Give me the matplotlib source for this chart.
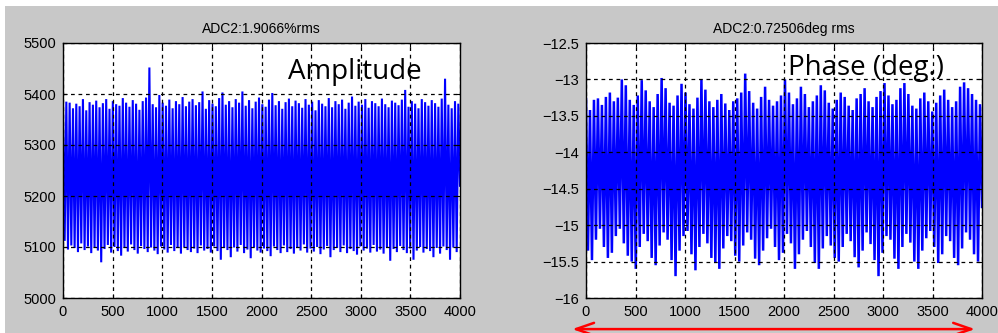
import numpy as np
import matplotlib
matplotlib.use("Agg")
import matplotlib.pyplot as plt
from matplotlib.patches import Rectangle
from matplotlib.transforms import blended_transform_factory

# peak / trough values (one per oscillation cycle)
amp_peaks = [5378, 5385, 5383, 5372, 5381, 5376, 5390, 5368, 5384, 5379,
             5387, 5374, 5382, 5390, 5371, 5386, 5380, 5377, 5392, 5383,
             5375, 5388, 5381, 5369, 5386, 5393, 5452, 5380, 5374, 5398,
             5383, 5377, 5389, 5372, 5386, 5380, 5394, 5376, 5385, 5390,
             5378, 5384, 5405, 5371, 5388, 5381, 5376, 5392, 5403, 5379,
             5386, 5374, 5390, 5383, 5405, 5377, 5388, 5372, 5385, 5393,
             5380, 5375, 5389, 5402, 5378, 5386, 5371, 5384, 5391, 5376,
             5387, 5382, 5373, 5390, 5379, 5385, 5368, 5388, 5381, 5376,
             5392, 5374, 5386, 5380, 5389, 5371, 5383, 5395, 5377, 5385,
             5379, 5390, 5373, 5386, 5382, 5376, 5391, 5380, 5374, 5387,
             5383, 5378, 5389, 5408, 5375, 5386, 5381, 5372, 5390, 5384,
             5377, 5388, 5382, 5375, 5391, 5430, 5379, 5372, 5386, 5381]
amp_troughs = [5112, 5095, 5103, 5098, 5090, 5107, 5094, 5101, 5088, 5099,
               5093, 5070, 5096, 5104, 5089, 5100, 5092, 5083, 5098, 5091,
               5105, 5094, 5087, 5102, 5096, 5090, 5099, 5093, 5086, 5101,
               5095, 5089, 5104, 5092, 5098, 5087, 5100, 5094, 5090, 5097,
               5088, 5103, 5093, 5096, 5089, 5101, 5092, 5075, 5098, 5094,
               5080, 5099, 5091, 5104, 5088, 5095, 5078, 5100, 5093, 5089,
               5097, 5092, 5082, 5101, 5094, 5088, 5103, 5090, 5096, 5087,
               5099, 5093, 5105, 5089, 5097, 5091, 5100, 5086, 5095, 5102,
               5080, 5094, 5098, 5090, 5103, 5088, 5096, 5092, 5085, 5101,
               5093, 5097, 5089, 5104, 5091, 5095, 5087, 5099, 5073, 5096,
               5090, 5102, 5094, 5088, 5097, 5075, 5093, 5100, 5089, 5096,
               5092, 5080, 5098, 5087, 5101, 5094, 5075, 5099, 5090, 5220]

ph_peaks = [-13.27, -13.42, -13.28, -13.26, -13.35, -13.24, -13.18, -13.30, -13.25, -13.00,
            -13.08, -13.28, -13.35, -13.22, -13.01, -13.15, -13.30, -13.38, -13.20, -12.98,
            -13.12, -13.32, -13.36, -13.22, -13.06, -13.18, -13.34, -13.40, -13.25, -13.00,
            -13.14, -13.30, -13.38, -13.28, -13.20, -13.33, -13.42, -13.30, -13.26, -13.18,
            -12.92, -13.16, -13.32, -13.40, -13.24, -13.10, -13.28, -13.36, -13.30, -13.22,
            -13.00, -13.18, -13.34, -13.26, -13.10, -13.20, -13.38, -13.30, -13.22, -13.08,
            -13.15, -13.32, -13.40, -13.28, -13.18, -13.24, -13.36, -13.42, -13.26, -13.20,
            -13.12, -13.30, -13.38, -13.24, -13.16, -13.05, -13.22, -13.34, -13.28, -13.12,
            -13.05, -13.20, -13.36, -13.40, -13.26, -13.18, -13.30, -13.44, -13.32, -13.22,
            -13.14, -13.28, -13.38, -13.30, -13.10, -13.04, -13.12, -13.20, -13.28, -13.34]
ph_troughs = [-15.35, -15.48, -15.20, -15.05, -15.30, -15.45, -15.38, -15.15, -15.05, -15.25,
              -15.42, -15.50, -15.60, -15.30, -15.12, -15.22, -15.45, -15.55, -15.28, -15.10,
              -15.20, -15.48, -15.70, -15.35, -15.15, -15.08, -15.40, -15.62, -15.30, -15.12,
              -15.25, -15.45, -15.52, -15.60, -15.32, -15.15, -15.22, -15.42, -15.50, -15.28,
              -15.10, -15.20, -15.46, -15.55, -15.35, -15.18, -15.05, -15.30, -15.48, -15.38,
              -15.12, -15.25, -15.60, -15.40, -15.20, -15.08, -15.30, -15.52, -15.60, -15.32,
              -15.15, -15.28, -15.45, -15.50, -15.30, -15.12, -15.22, -15.44, -15.58, -15.35,
              -15.10, -15.26, -15.48, -15.70, -15.38, -15.15, -15.20, -15.46, -15.60, -15.30,
              -15.12, -15.24, -15.50, -15.60, -15.35, -15.18, -15.08, -15.30, -15.52, -15.40,
              -15.15, -15.22, -15.45, -15.55, -15.32, -15.10, -15.20, -15.40, -15.50, -14.75]

n_samples = 4000
titles = ["ADC2:1.9066%rms", "ADC2:0.72506deg rms"]
labels = ["Amplitude", "Phase (deg.)"]
amp_yticks = [5000, 5100, 5200, 5300, 5400, 5500]
ph_yticks = [-16, -15.5, -15, -14.5, -14, -13.5, -13, -12.5]
xticks = [0, 500, 1000, 1500, 2000, 2500, 3000, 3500, 4000]

tick_font = ["Liberation Sans", "DejaVu Sans"]
gray = "#c8c8c8"


def zigzag(peaks, troughs):
    # interleave the peaks and troughs, spread evenly over the record
    y = np.empty(2 * len(peaks))
    y[0::2] = peaks
    y[1::2] = troughs
    x = np.linspace(0, n_samples, len(y))
    return x, y


fig = plt.figure(figsize=(9.98, 3.33), dpi=100, facecolor="white")
fig.patches.append(Rectangle((5 / 998, 0), 1, 327 / 333, transform=fig.transFigure,
                             facecolor=gray, edgecolor="none", zorder=-10))

ax1 = fig.add_axes([63 / 998, 35 / 333, 397 / 998, 255 / 333])
ax2 = fig.add_axes([586 / 998, 35 / 333, 396 / 998, 255 / 333])

panels = [(ax1, amp_peaks, amp_troughs, amp_yticks, 1.5),
          (ax2, ph_peaks, ph_troughs, ph_yticks, 1.8)]

for i, (ax, pk, tr, yt, lw) in enumerate(panels):
    x, y = zigzag(pk, tr)
    ax.plot(x, y, color="#0000ff", lw=lw, zorder=2, solid_joinstyle="miter")
    ax.set_xlim(0, n_samples)
    ax.set_ylim(yt[0], yt[-1])
    ax.set_xticks(xticks)
    ax.set_yticks(yt)
    ax.set_xticklabels([str(t) for t in xticks], family=tick_font, fontsize=10.5)
    ax.set_yticklabels([("%g" % t).replace("-", "\u2212") for t in yt],
                       family=tick_font, fontsize=10.5)
    ax.tick_params(direction="in", length=3, width=0.8, top=True, right=True,
                   pad=5, colors="black")
    ax.grid(True, color="black", linestyle=(0, (3, 3)), linewidth=0.9, zorder=3)
    ax.set_axisbelow(False)
    for s in ax.spines.values():
        s.set_linewidth(1.0)
        s.set_zorder(4)
    ax.set_title(titles[i], family=tick_font, fontsize=10, pad=7)

ax1.text(0.566, 0.859, labels[0], transform=ax1.transAxes, family="Open Sans",
         fontsize=20, ha="left", va="baseline", zorder=5)
ax2.text(0.510, 0.875, labels[1], transform=ax2.transAxes, family="Open Sans",
         fontsize=20, ha="left", va="baseline", zorder=5)

# red double arrow under the phase axis
tr = blended_transform_factory(ax2.transData, ax2.transAxes)
ax2.annotate("", xy=(-140, -0.122), xytext=(3930, -0.122), xycoords=tr, textcoords=tr,
             arrowprops=dict(arrowstyle="<->,head_length=1.3,head_width=0.45",
                             color="red", lw=1.8, shrinkA=0, shrinkB=0),
             annotation_clip=False)

fig.savefig("out.png", dpi=100, facecolor=fig.get_facecolor())
